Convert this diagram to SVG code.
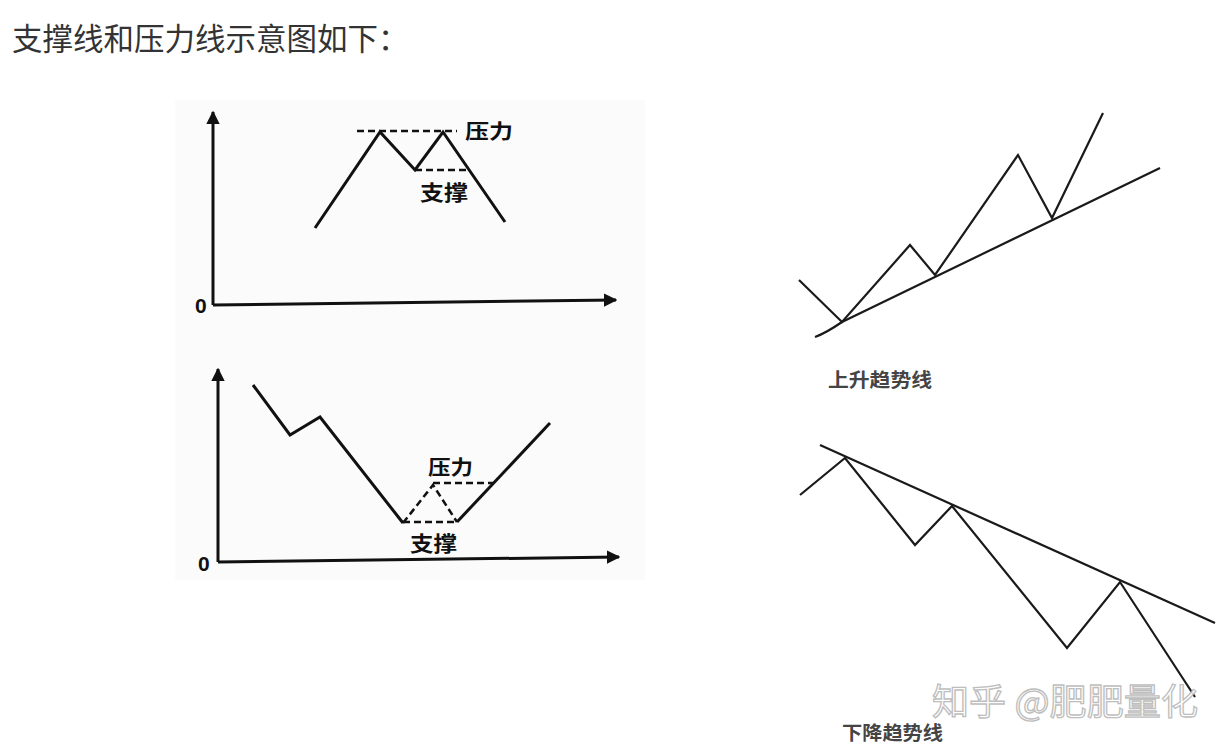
<svg xmlns="http://www.w3.org/2000/svg" width="1230" height="756" viewBox="0 0 1230 756">
<defs>
<style>
.title{font-family:"Noto Sans CJK SC","Noto Sans",sans-serif;font-size:30.5px;fill:#333}
.lbl{font-family:"Noto Sans CJK SC",sans-serif;font-weight:700;fill:#111}
.zero{font-family:"Liberation Sans",sans-serif;font-weight:700;font-size:21px;fill:#111}
.cap{font-family:"Noto Sans CJK SC",sans-serif;font-weight:700;font-size:19px;fill:#444}
.ax{stroke:#111;stroke-width:3;fill:none}
.p{stroke:#111;stroke-width:3;fill:none;stroke-linejoin:miter}
.d{stroke:#111;stroke-width:2.5;fill:none;stroke-dasharray:7 4}
.r{stroke:#1a1a1a;stroke-width:2.2;fill:none}
.wm{font-family:"Noto Sans CJK SC",sans-serif;font-size:36px;fill:#fff;stroke:#b8b8b8;stroke-width:1.3;opacity:0.9}
</style>
<marker id="ah" viewBox="0 0 10 10" refX="9" refY="5" markerWidth="4.5" markerHeight="4.5" orient="auto" markerUnits="strokeWidth">
<path d="M0,0 L10,5 L0,10 z" fill="#111"/>
</marker>
</defs>
<rect width="1230" height="756" fill="#fff"/>
<rect x="175" y="100" width="470" height="480" fill="#fbfbfb"/>
<text class="title" x="12" y="50">支撑线和压力线示意图如下：</text>

<g id="chart-top">
<line class="ax" x1="213" y1="305" x2="213" y2="112" marker-end="url(#ah)"/>
<line class="ax" x1="213" y1="305" x2="616" y2="300" marker-end="url(#ah)"/>
<text class="zero" x="195" y="313">0</text>
<polyline class="p" points="315,228 380,132 415,170 443,132 505,222"/>
<line class="d" x1="357" y1="131" x2="457" y2="131"/>
<line class="d" x1="415" y1="170" x2="470" y2="170"/>
<text class="lbl" x="465" y="139" font-size="20" textLength="48" lengthAdjust="spacingAndGlyphs">压力</text>
<text class="lbl" x="420" y="200" font-size="21" textLength="48" lengthAdjust="spacingAndGlyphs">支撑</text>
</g>

<g id="chart-bottom">
<line class="ax" x1="218" y1="562" x2="218" y2="369" marker-end="url(#ah)"/>
<line class="ax" x1="218" y1="562" x2="619" y2="557" marker-end="url(#ah)"/>
<text class="zero" x="198" y="571">0</text>
<polyline class="p" points="253,385 290,435 320,417 403,523"/>
<polyline class="p" points="457,522 550,423"/>
<polyline class="d" points="403,523 433,485 457,522"/>
<line class="d" x1="403" y1="522" x2="457" y2="522"/>
<line class="d" x1="433" y1="483" x2="493" y2="483"/>
<text class="lbl" x="428" y="475" font-size="20" textLength="45" lengthAdjust="spacingAndGlyphs">压力</text>
<text class="lbl" x="410" y="551" font-size="21" textLength="47" lengthAdjust="spacingAndGlyphs">支撑</text>
</g>

<g id="uptrend">
<polyline class="r" points="799,280 842,322 910,245 935,275 1018,155 1052,218 1103,113"/>
<path class="r" d="M815,337 Q826,333 842,322 L1160,168"/>
<text class="cap" x="828" y="387" textLength="104" lengthAdjust="spacingAndGlyphs">上升趋势线</text>
</g>

<g id="downtrend">
<polyline class="r" points="800,495 845,458 915,545 952,506 1067,648 1120,582 1195,697"/>
<line class="r" x1="820" y1="445" x2="1215" y2="623"/>
<text class="cap" x="842" y="740" textLength="101" lengthAdjust="spacingAndGlyphs">下降趋势线</text>
</g>

<text class="wm" x="932" y="715" textLength="266" lengthAdjust="spacingAndGlyphs">知乎 @肥肥量化</text>
</svg>
